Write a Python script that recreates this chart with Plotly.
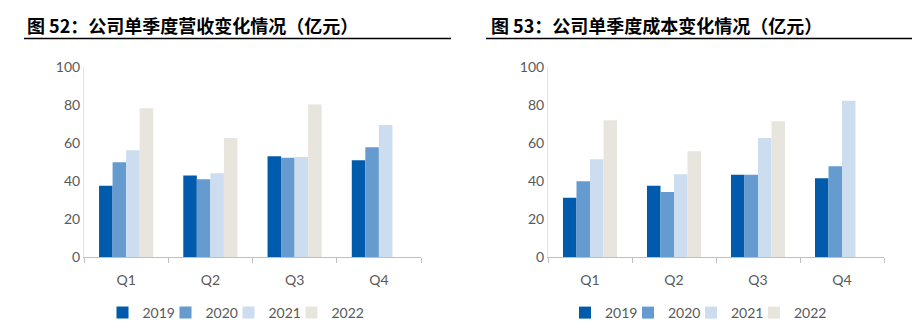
import plotly.graph_objects as go

quarters = ["Q1", "Q2", "Q3", "Q4"]
years = ["2019", "2020", "2021", "2022"]

revenue = {
    "2019": [37.4, 42.8, 53.0, 50.9],
    "2020": [49.8, 40.9, 52.1, 57.7],
    "2021": [56.1, 44.0, 52.5, 69.3],
    "2022": [78.2, 62.5, 80.2, None],
}
cost = {
    "2019": [31.1, 37.5, 43.2, 41.4],
    "2020": [39.8, 34.2, 43.2, 47.7],
    "2021": [51.4, 43.5, 62.5, 82.1],
    "2022": [71.8, 55.6, 71.4, None],
}
colors = {"2019": "#005BAC", "2020": "#659BCE", "2021": "#CBDDEF", "2022": "#E8E5DF"}

title_left = "图 52：公司单季度营收变化情况（亿元）"
title_right = "图 53：公司单季度成本变化情况（亿元）"

W, H = 916, 324
def px_x(p):
    return p / W
def px_y(p):
    return 1 - p / H

tick_font = dict(family="Lato, Open Sans, sans-serif", size=14, color="#595959")

# legend anchor positions (px) for each year, left and right charts
pitch = 63
leg_left = [102.5 + i * pitch for i in range(4)]
leg_right = [565 + i * pitch for i in range(4)]

fig = go.Figure()
legends = {}
for i, yr in enumerate(years):
    ln = "legend" if i == 0 else f"legend{i + 1}"
    fig.add_trace(go.Bar(x=quarters, y=revenue[yr], name=yr, marker_color=colors[yr],
                         marker_line_width=0, xaxis="x", yaxis="y", legend=ln))
    legends[ln] = leg_left[i]
for i, yr in enumerate(years):
    ln = f"legend{i + 5}"
    fig.add_trace(go.Bar(x=quarters, y=cost[yr], name=yr, marker_color=colors[yr],
                         marker_line_width=0, xaxis="x2", yaxis="y2", legend=ln))
    legends[ln] = leg_right[i]

ydom = [px_y(257), px_y(66.7)]

xcommon = dict(showline=True, linecolor="#BFBFBF", linewidth=1, ticks="outside",
               tickson="boundaries", ticklen=5, tickcolor="#BFBFBF", tickfont=tick_font,
               ticklabelstandoff=10,
               showgrid=False, zeroline=False, fixedrange=True)
ycommon = dict(range=[0, 100], dtick=20, showline=True, linecolor="#E3E3E3", linewidth=1,
               showgrid=False, zeroline=False, tickfont=tick_font, ticks="", fixedrange=True)

fig.update_layout(
    width=W, height=H,
    margin=dict(l=0, r=0, t=0, b=0, autoexpand=False),
    paper_bgcolor="white", plot_bgcolor="white",
    barmode="group", bargap=0.357, bargroupgap=0,
    xaxis=dict(domain=[px_x(84), px_x(421)], anchor="y", **xcommon),
    yaxis=dict(domain=ydom, anchor="x", **ycommon),
    xaxis2=dict(domain=[px_x(548), px_x(884)], anchor="y2", **xcommon),
    yaxis2=dict(domain=ydom, anchor="x2", **ycommon),
    showlegend=True,
)
for ln, xl in legends.items():
    fig.update_layout({ln: dict(orientation="h", x=px_x(xl), y=px_y(313),
                                xanchor="left", yanchor="middle", font=tick_font,
                                itemwidth=30, bgcolor="rgba(0,0,0,0)")})

title_font = dict(family="Noto Sans CJK SC", size=18, color="#000000", weight="bold")
fig.add_annotation(text=title_left, x=px_x(25), y=px_y(25), xref="paper", yref="paper",
                   xanchor="left", yanchor="middle", showarrow=False, font=title_font)
fig.add_annotation(text=title_right, x=px_x(489), y=px_y(25), xref="paper", yref="paper",
                   xanchor="left", yanchor="middle", showarrow=False, font=title_font)
fig.add_shape(type="line", xref="paper", yref="paper", x0=px_x(24), x1=px_x(451),
              y0=px_y(38.5), y1=px_y(38.5), line=dict(color="#000000", width=1.5))
fig.add_shape(type="line", xref="paper", yref="paper", x0=px_x(486), x1=px_x(912),
              y0=px_y(38.5), y1=px_y(38.5), line=dict(color="#000000", width=1.5))

fig.write_html("out.html")
